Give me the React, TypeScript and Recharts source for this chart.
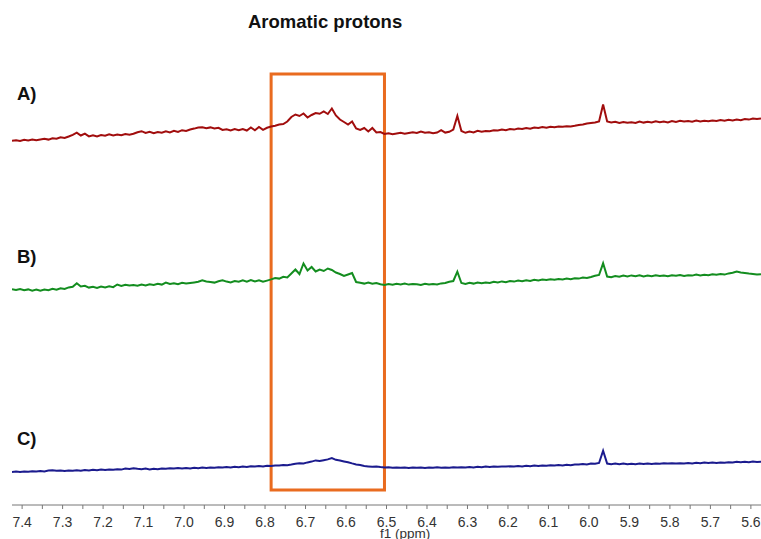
import { LineChart, Line, XAxis, YAxis, ReferenceArea } from "recharts";

// spectra sampled every 0.01 ppm, from 7.425 down to 5.575 ppm
const ppmStart = 7.425;
const ppmStep = 0.01;

// signal heights above each trace's own baseline (arbitrary units)
const traceA = [
  0.3, 0.8, 0, 1.2, 0.5, 1.5, 0.8, 1.6, 2.2, 1.4, 2.8, 2.2, 3.8, 3.0, 4.5, 6.2, 8.3, 5.5, 7.4, 4.6,
  5.8, 4.5, 6.0, 5.2, 6.8, 5.6, 6.5, 5.8, 7.0, 6.2, 7.2, 8.8, 9.8, 8.0, 9.2, 7.8, 8.9, 8.2, 9.6, 8.6,
  10.2, 9.0, 10.8, 10.0, 11.5, 12.4, 13.5, 13.8, 12.8, 13.6, 12.5, 13.2, 11.0, 11.8, 10.6, 11.9, 10.8, 12.0, 10.5, 13.6,
  10.8, 14.0, 11.2, 13.2, 14.5, 15.2, 16.5, 17.0, 19.5, 24.0, 26.5, 25.0, 27.5, 23.5, 26.0, 28.0, 27.2, 29.5, 27.0, 32.5,
  25.5, 21.5, 19.0, 16.5, 19.5, 12.5, 11.0, 13.0, 9.5, 13.0, 8.5, 9.0, 7.0, 7.8, 6.8, 7.5, 8.2, 7.2, 8.0, 8.8,
  8.0, 9.5, 8.2, 8.8, 7.8, 8.5, 10.8, 8.4, 9.2, 11.5, 25.0, 10.0, 8.2, 9.5, 8.6, 10.2, 9.2, 10.0, 9.8, 10.8,
  10.5, 11.5, 10.8, 12.0, 11.4, 12.5, 12.0, 13.0, 12.2, 13.5, 13.0, 14.0, 13.2, 14.2, 13.8, 14.6, 14.2, 14.8, 14.5, 15.2,
  16.0, 16.5, 17.5, 18.0, 18.5, 19.5, 36.5, 19.5, 18.5, 19.2, 18.0, 19.0, 18.2, 18.8, 18.0, 19.5, 18.4, 19.2, 18.6, 19.8,
  18.8, 19.4, 18.6, 20.0, 19.0, 20.2, 19.4, 20.0, 19.2, 20.4, 19.6, 20.2, 19.8, 20.6, 20.0, 21.0, 20.2, 21.2, 20.6, 21.5,
  20.8, 22.0, 21.4, 22.5, 22.0, 22.6,
];

const traceB = [
  0.7, 0, 1.0, -0.3, 0.6, -0.6, 0.4, -0.8, 0.5, -0.2, 1.2, 0.2, 1.8, 1.0, 2.6, 3.2, 6.8, 3.5, 4.2, 2.4,
  3.2, 2.0, 3.4, 2.6, 3.8, 2.8, 5.5, 4.0, 5.2, 4.4, 5.0, 4.2, 5.4, 4.6, 5.8, 5.0, 6.2, 5.4, 7.5, 6.0,
  6.8, 5.8, 7.2, 6.4, 7.0, 7.6, 8.2, 9.8, 8.6, 8.0, 7.4, 8.8, 9.8, 8.4, 7.6, 9.0, 8.2, 9.6, 8.4, 10.0,
  8.6, 9.8, 8.2, 9.4, 10.6, 12.0, 11.4, 13.2, 12.6, 16.5, 20.5, 16.0, 26.5, 19.5, 23.0, 18.5, 20.5, 19.0, 21.5, 20.0,
  17.5, 16.0, 14.0, 15.5, 17.0, 8.0, 7.2, 6.4, 7.5, 6.2, 7.0, 5.8, 5.0, 6.0, 5.2, 6.2, 5.6, 6.4, 5.4, 6.0,
  5.8, 5.0, 6.2, 5.4, 6.0, 5.6, 6.6, 7.0, 8.2, 9.0, 18.3, 7.0, 6.0, 7.2, 6.4, 7.5, 6.8, 7.6, 7.0, 8.2,
  7.6, 8.6, 7.8, 9.0, 8.4, 9.4, 8.8, 9.8, 9.0, 10.2, 9.6, 10.4, 10.0, 10.8, 10.2, 11.0, 10.6, 11.4, 10.8, 11.8,
  11.4, 12.4, 12.0, 13.0, 14.2, 15.0, 26.7, 13.5, 12.8, 14.0, 13.2, 14.4, 13.6, 14.6, 13.8, 14.8, 13.6, 14.4, 13.8, 14.8,
  14.0, 14.6, 13.8, 14.8, 14.2, 15.0, 14.0, 14.8, 14.4, 15.4, 14.6, 15.2, 14.8, 15.8, 15.2, 16.0, 15.4, 16.6, 17.2, 18.5,
  17.6, 17.0, 16.4, 16.0, 15.4, 15.8,
];

const traceC = [
  0, 0.4, 0, 0.6, 0.2, 0.8, 0.4, 1.0, 0.6, 1.4, 1.8, 1.2, 1.6, 1.0, 1.5, 1.2, 1.8, 1.3, 2.0, 1.6,
  2.2, 1.8, 2.4, 2.0, 2.6, 2.2, 2.8, 2.4, 3.4, 3.0, 3.8, 3.2, 2.8, 3.4, 2.6, 3.2, 2.8, 3.6, 3.2, 3.8,
  3.4, 3.9, 3.5, 4.0, 3.6, 4.2, 3.8, 4.4, 4.0, 4.4, 4.2, 4.8, 4.4, 5.0, 4.6, 5.2, 4.8, 5.4, 5.0, 5.8,
  5.4, 6.0, 5.6, 6.2, 6.0, 6.6, 6.4, 7.0, 6.8, 7.4, 8.2, 8.8, 8.6, 9.6, 10.4, 11.6, 11.0, 11.8, 12.6, 14.0,
  12.2, 11.4, 10.6, 9.8, 8.6, 7.6, 7.0, 6.0, 5.6, 5.2, 5.6, 5.0, 4.6, 4.8, 4.2, 4.6, 4.2, 4.6, 4.0, 4.6,
  4.2, 4.6, 4.0, 4.6, 4.2, 4.8, 4.2, 4.6, 4.2, 4.8, 4.4, 4.8, 4.4, 5.0, 4.6, 5.2, 4.8, 5.4, 5.0, 5.6,
  5.2, 5.6, 5.4, 5.8, 5.6, 6.0, 5.6, 6.2, 5.8, 6.4, 6.0, 6.6, 6.2, 6.8, 6.4, 7.0, 6.6, 7.2, 6.8, 7.6,
  7.4, 8.0, 7.6, 8.4, 8.2, 9.0, 21.3, 8.4, 7.8, 8.4, 7.8, 8.4, 7.8, 8.2, 7.8, 8.4, 8.0, 8.6, 8.0, 8.6,
  8.2, 8.8, 8.4, 8.8, 8.4, 8.8, 8.6, 9.0, 8.6, 9.2, 8.8, 9.4, 9.0, 9.4, 9.0, 9.6, 9.2, 9.8, 9.4, 10.2,
  9.8, 10.2, 9.8, 10.4, 10.0, 10.2,
];

// vertical stacking offsets of the three spectra
const offsetA = 364;
const offsetB = 215;
const offsetC = 33;

const xTicks = [
  7.4, 7.35, 7.3, 7.25, 7.2, 7.15, 7.1, 7.05, 7.0, 6.95, 6.9, 6.85, 6.8, 6.75, 6.7, 6.65, 6.6, 6.55, 6.5,
  6.45, 6.4, 6.35, 6.3, 6.25, 6.2, 6.15, 6.1, 6.05, 6.0, 5.95, 5.9, 5.85, 5.8, 5.75, 5.7, 5.65, 5.6,
];

const highlight = { from: 6.785, to: 6.505 };

const data = traceA.map((a, i) => ({
  ppm: +(ppmStart - ppmStep * i).toFixed(3),
  A: a + offsetA,
  B: traceB[i] + offsetB,
  C: traceC[i] + offsetC,
}));

const font = "'Liberation Sans', Arial, sans-serif";

const PpmTick = (props: any) => {
  const { x, y, payload } = props;
  const v = payload.value as number;
  if (Math.round(v * 100) % 10 !== 0) return null;
  return (
    <text x={x} y={y + 15.7} textAnchor="middle" fill="#333" fontSize={14} fontFamily={font}>
      {v.toFixed(1)}
    </text>
  );
};

const labelStyle = {
  position: "absolute" as const,
  left: 17,
  fontFamily: font,
  fontWeight: 700,
  fontSize: 18.5,
  lineHeight: 1,
  color: "#111",
};

export default function App() {
  return (
    <div style={{ position: "absolute", left: 0, top: 0, width: 761, height: 539, background: "#fff" }}>
      <LineChart width={761} height={539} data={data} margin={{ top: 0, right: 0, left: 12, bottom: 0 }}>
        <XAxis
          dataKey="ppm"
          type="number"
          domain={[5.575, 7.425]}
          reversed
          allowDataOverflow
          ticks={xTicks}
          interval={0}
          height={34}
          tickSize={4}
          stroke="#777"
          tick={<PpmTick />}
        />
        <YAxis hide domain={[0, 505]} allowDataOverflow />
        <Line dataKey="A" stroke="#a10d0d" strokeWidth={2} dot={false} isAnimationActive={false} />
        <Line dataKey="B" stroke="#138d1f" strokeWidth={2} dot={false} isAnimationActive={false} />
        <Line dataKey="C" stroke="#1b1b8e" strokeWidth={2} dot={false} isAnimationActive={false} />
        <ReferenceArea
          x1={highlight.from}
          x2={highlight.to}
          y1={15}
          y2={431}
          fill="none"
          stroke="#e96b1f"
          strokeWidth={3}
          ifOverflow="visible"
        />
      </LineChart>
      <div style={{ ...labelStyle, left: 248, top: 12.7 }}>Aromatic protons</div>
      <div style={{ ...labelStyle, top: 85 }}>A)</div>
      <div style={{ ...labelStyle, top: 248.3 }}>B)</div>
      <div style={{ ...labelStyle, top: 430.3 }}>C)</div>
      <div
        style={{ position: "absolute", left: 380, top: 527, fontFamily: font, fontSize: 13.5, lineHeight: 1, color: "#333" }}
      >
        f1 (ppm)
      </div>
    </div>
  );
}
